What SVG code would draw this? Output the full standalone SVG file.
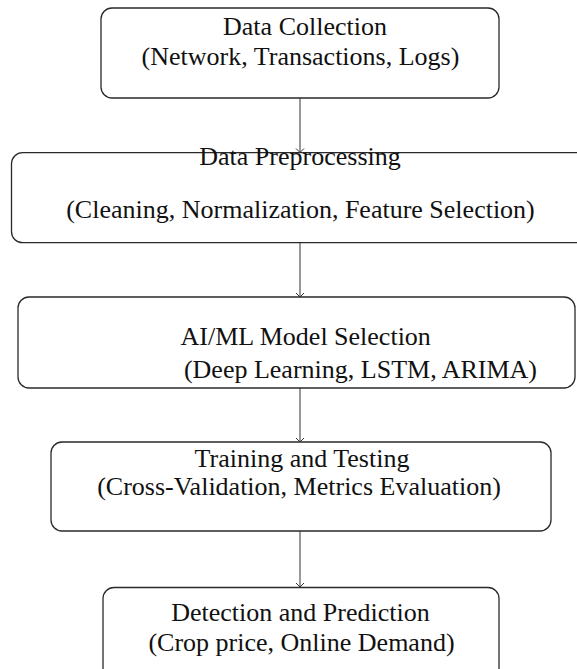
<svg xmlns="http://www.w3.org/2000/svg" width="577" height="669" viewBox="0 0 577 669">
  <defs>
    <marker id="arrow" viewBox="-6 -6 12 12" refX="0" refY="0" markerWidth="12" markerHeight="12" markerUnits="userSpaceOnUse" orient="auto" overflow="visible">
      <path d="M-4,-4 L0,0 L-4,4" fill="none" stroke="#333" stroke-width="1"/>
    </marker>
    <style>
      .box { fill: #ffffff; stroke: #2a2a2a; stroke-width: 1.3; }
      .lbl { font-family: "Liberation Serif", "Times New Roman", serif; font-size: 26px; fill: #111; text-anchor: middle; }
      .link { stroke: #333; stroke-width: 1; fill: none; marker-end: url(#arrow); }
    </style>
  </defs>

  <rect width="577" height="669" fill="#ffffff"/>

  <!-- process steps, top to bottom -->
  <g id="data-collection">
    <rect class="box" x="101" y="8" width="398" height="90" rx="11"/>
    <text class="lbl" x="305" y="35">Data Collection</text>
    <text class="lbl" x="300.5" y="65">(Network, Transactions, Logs)</text>
  </g>

  <g id="data-preprocessing">
    <rect class="box" x="11.5" y="152.7" width="600" height="90" rx="11"/>
    <text class="lbl" x="300" y="165">Data Preprocessing</text>
    <text class="lbl" x="300.5" y="218">(Cleaning, Normalization, Feature Selection)</text>
  </g>

  <g id="model-selection">
    <rect class="box" x="18" y="297" width="557" height="91" rx="11"/>
    <text class="lbl" x="305.7" y="345">AI/ML Model Selection</text>
    <text class="lbl" x="360.5" y="378">(Deep Learning, LSTM, ARIMA)</text>
  </g>

  <g id="training-testing">
    <rect class="box" x="51" y="442" width="500" height="89" rx="11"/>
    <text class="lbl" x="302" y="466.5">Training and Testing</text>
    <text class="lbl" x="299" y="495">(Cross-Validation, Metrics Evaluation)</text>
  </g>

  <g id="detection-prediction">
    <rect class="box" x="103" y="587.5" width="396" height="110" rx="11"/>
    <text class="lbl" x="300.5" y="621">Detection and Prediction</text>
    <text class="lbl" x="301.5" y="651">(Crop price, Online Demand)</text>
  </g>

  <!-- flow arrows between steps -->
  <g id="connectors">
    <line class="link" x1="300" y1="98" x2="300" y2="152.5"/>
    <line class="link" x1="300" y1="243" x2="300" y2="297"/>
    <line class="link" x1="300" y1="388" x2="300" y2="442"/>
    <line class="link" x1="300" y1="531" x2="300" y2="587"/>
  </g>
</svg>
